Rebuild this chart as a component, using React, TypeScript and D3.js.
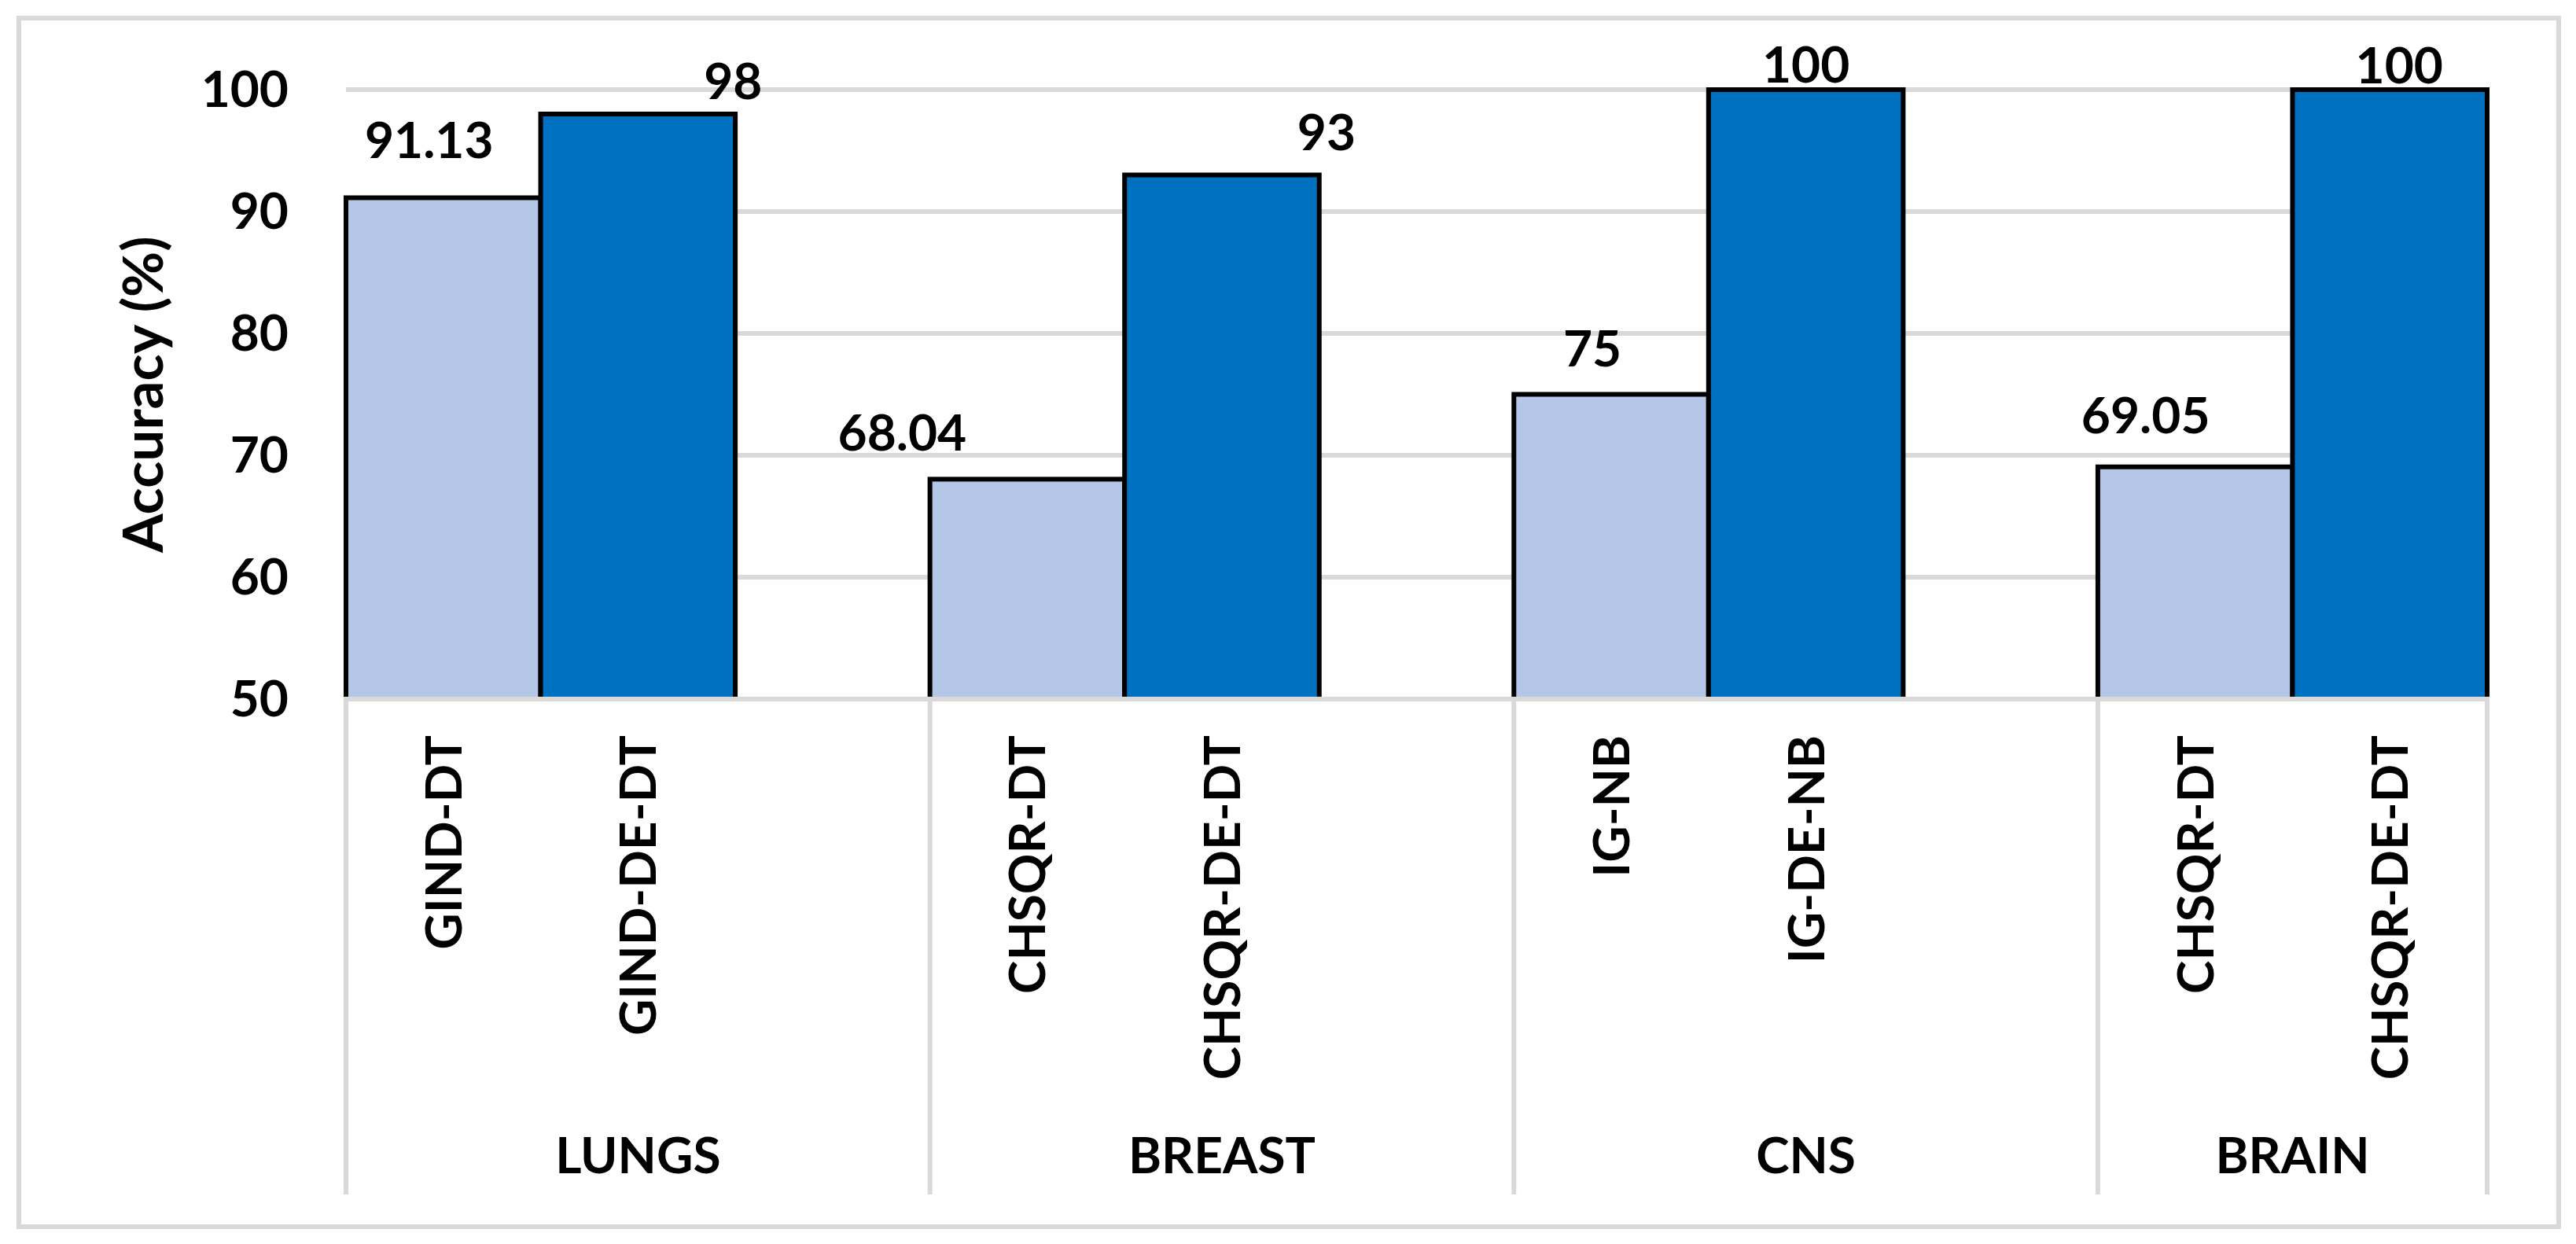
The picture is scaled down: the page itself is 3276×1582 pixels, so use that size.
import React from "react";
import * as d3 from "d3";

// ---- data ----
const categories = ["LUNGS", "BREAST", "CNS", "BRAIN"];
const baseMethods = ["GIND-DT", "CHSQR-DT", "IG-NB", "CHSQR-DT"];
const deMethods = ["GIND-DE-DT", "CHSQR-DE-DT", "IG-DE-NB", "CHSQR-DE-DT"];
const baseAccuracy = [91.13, 68.04, 75, 69.05];
const deAccuracy = [98, 93, 100, 100];
const yTicks = [50, 60, 70, 80, 90, 100];
const yTitle = "Accuracy (%)";

// manual label nudges (px) as placed in the original chart: [dx, dy from bar top]
const baseLabelNudge = [[-18, -50], [-159, -36], [-24, -36], [-63, -43]];
const deLabelNudge = [[121, -19], [133, -32], [0, -9], [12, -8]];

const W = 3276;
const H = 1582;
const FONT = "Lato, 'Open Sans', sans-serif";
const GRID = "#D9D9D9";
const LIGHT = "#B4C7E7";
const DARK = "#0070C0";

export default function App() {
  const slotCount = categories.length * 3 - 1;
  const x = d3
    .scaleBand<number>()
    .domain(d3.range(slotCount))
    .range([440, 3163])
    .padding(0);
  const bw = x.bandwidth();
  const y = d3.scaleLinear().domain([50, 100]).range([889, 114]);

  const bars: { slot: number; v: number; fill: string; nudge: number[] }[] = [];
  categories.forEach((_, i) => {
    bars.push({ slot: i * 3, v: baseAccuracy[i], fill: LIGHT, nudge: baseLabelNudge[i] });
    bars.push({ slot: i * 3 + 1, v: deAccuracy[i], fill: DARK, nudge: deLabelNudge[i] });
  });

  const methodLabels: { slot: number; text: string }[] = [];
  categories.forEach((_, i) => {
    methodLabels.push({ slot: i * 3, text: baseMethods[i] });
    methodLabels.push({ slot: i * 3 + 1, text: deMethods[i] });
  });

  const plotRight = x.range()[1];
  const separators = categories.map((_, i) => x(i * 3) as number).concat([plotRight]);

  return (
    <svg
      width={W}
      height={H}
      viewBox={`0 0 ${W} ${H}`}
      style={{ position: "fixed", left: 0, top: 0, background: "#fff" }}
      fontFamily={FONT}
      fontWeight="bold"
    >
      <rect x={0} y={0} width={W} height={H} fill="#fff" />
      <rect x={24} y={23} width={3230} height={1537} fill="#fff" stroke={GRID} strokeWidth={6} />

      {/* gridlines */}
      {yTicks
        .filter((t) => t !== 50)
        .map((t) => (
          <line key={"g" + t} x1={440} x2={plotRight} y1={y(t)} y2={y(t)} stroke={GRID} strokeWidth={6} />
        ))}

      {/* bars */}
      {bars.map((b) => (
        <rect
          key={"b" + b.slot}
          x={x(b.slot)}
          y={y(b.v)}
          width={bw}
          height={y(50) - y(b.v)}
          fill={b.fill}
          stroke="#000"
          strokeWidth={6}
        />
      ))}

      {/* x axis line */}
      <line x1={440 - 3} x2={plotRight + 3} y1={y(50)} y2={y(50)} stroke={GRID} strokeWidth={6} />

      {/* category separators */}
      {separators.map((sx, i) => (
        <line key={"s" + i} x1={sx} x2={sx} y1={y(50)} y2={1519} stroke={GRID} strokeWidth={6} />
      ))}

      {/* y tick labels */}
      {yTicks.map((t) => (
        <text key={"t" + t} x={367} y={y(t) + 22} textAnchor="end" fontSize={64} fill="#000">
          {t}
        </text>
      ))}

      {/* y title */}
      <text
        transform={`translate(207, ${(y(50) + y(100)) / 2}) rotate(-90)`}
        textAnchor="middle"
        fontSize={71}
        fill="#000"
      >
        {yTitle}
      </text>

      {/* data labels */}
      {bars.map((b) => (
        <text
          key={"l" + b.slot}
          x={(x(b.slot) as number) + bw / 2 + b.nudge[0]}
          y={y(b.v) + b.nudge[1]}
          textAnchor="middle"
          fontSize={64}
          fill="#000"
        >
          {String(b.v)}
        </text>
      ))}

      {/* method labels (rotated) */}
      {methodLabels.map((m) => {
        const cx = (x(m.slot) as number) + bw / 2 + 23;
        return (
          <text
            key={"m" + m.slot}
            transform={`translate(${cx}, 935) rotate(-90)`}
            textAnchor="end"
            fontSize={64}
            fill="#000"
          >
            {m.text}
          </text>
        );
      })}

      {/* category labels */}
      {categories.map((c, i) => {
        const start = x(i * 3) as number;
        const end = i * 3 + 3 <= slotCount ? (x(i * 3 + 2) as number) + bw : plotRight;
        return (
          <text key={"c" + c} x={(start + end) / 2} y={1492} textAnchor="middle" fontSize={64} fill="#000">
            {c}
          </text>
        );
      })}
    </svg>
  );
}
